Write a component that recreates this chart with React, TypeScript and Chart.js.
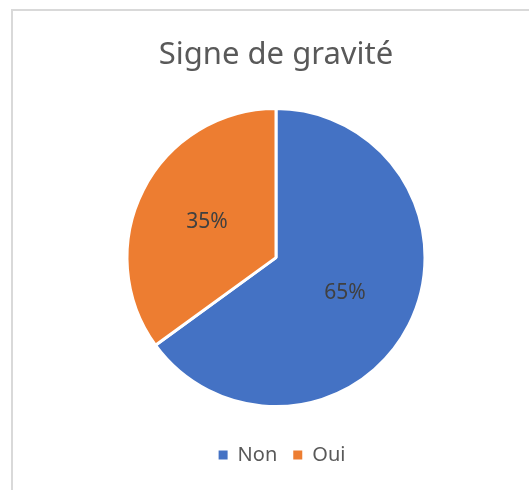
import React, { useEffect, useRef } from "react";
import { Chart, registerables } from "chart.js";

Chart.register(...registerables);

const categories = ["Non", "Oui"];
const values = [65, 35];
const colors = ["#4472C4", "#ED7D31"];
const titleText = "Signe de gravité";

const FONT = "'Noto Sans', 'DejaVu Sans', sans-serif";

const frame = {
  id: "frame",
  beforeDraw(chart: any) {
    const ctx = chart.ctx;
    ctx.save();
    ctx.fillStyle = "#ffffff";
    ctx.fillRect(0, 0, chart.width, chart.height);
    ctx.strokeStyle = "#d9d9d9";
    ctx.lineWidth = 2;
    ctx.strokeRect(12, 10, 700, 700);
    ctx.restore();
  },
};

const shiftLegend = {
  id: "shiftLegend",
  afterLayout(chart: any) {
    if (chart.legend) {
      chart.legend.left += 6;
      chart.legend.right += 6;
    }
  },
};

const pctLabels = {
  id: "pctLabels",
  afterDatasetsDraw(chart: any) {
    const ctx = chart.ctx;
    const meta = chart.getDatasetMeta(0);
    const data = chart.data.datasets[0].data as number[];
    const total = data.reduce((a: number, b: number) => a + b, 0);
    ctx.save();
    ctx.font = `21px ${FONT}`;
    ctx.fillStyle = "#404040";
    ctx.textAlign = "center";
    ctx.textBaseline = "middle";
    meta.data.forEach((arc: any, i: number) => {
      const { x, y, startAngle, endAngle, outerRadius } = arc.getProps(
        ["x", "y", "startAngle", "endAngle", "outerRadius"],
        true
      );
      const mid = (startAngle + endAngle) / 2;
      const r = outerRadius * 0.52;
      const pct = Math.round((data[i] / total) * 100) + "%";
      ctx.fillText(pct, x + Math.cos(mid) * r, y + Math.sin(mid) * r);
    });
    ctx.restore();
  },
};

export default function App() {
  const ref = useRef<HTMLCanvasElement>(null);
  useEffect(() => {
    if (!ref.current) return;
    const chart = new Chart(ref.current, {
      type: "pie",
      data: {
        labels: categories,
        datasets: [
          {
            data: values,
            backgroundColor: colors,
            borderColor: "#ffffff",
            borderWidth: 3,
            radius: 149,
          } as any,
        ],
      },
      options: {
        animation: false,
        responsive: false,
        maintainAspectRatio: false,
        layout: { padding: { left: 23, top: 0, right: 0, bottom: 15 } },
        plugins: {
          title: {
            display: true,
            text: titleText,
            color: "#595959",
            font: { family: FONT, size: 31, weight: "normal" },
            padding: { top: 36.5, bottom: 12.5 },
          },
          legend: {
            display: true,
            position: "bottom",
            labels: {
              color: "#595959",
              font: { family: FONT, size: 20 },
              boxWidth: 9,
              boxHeight: 9,
              padding: 16,
              generateLabels: (c: any) =>
                (Chart as any).overrides.pie.plugins.legend.labels
                  .generateLabels(c)
                  .map((l: any) => ({ ...l, lineWidth: 0, strokeStyle: "rgba(0,0,0,0)" })),
            },
          },
          tooltip: { enabled: false },
        },
      },
      plugins: [frame, shiftLegend, pctLabels],
    });
    return () => chart.destroy();
  }, []);
  return (
    <div style={{ position: "fixed", left: 0, top: 0, width: 529, height: 490 }}>
      <canvas ref={ref} width={529} height={490} style={{ width: 529, height: 490 }} />
    </div>
  );
}
